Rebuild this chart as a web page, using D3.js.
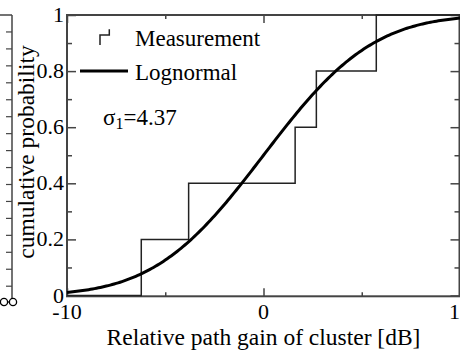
<!DOCTYPE html>
<html>
<head>
<meta charset="utf-8">
<script src="https://cdn.jsdelivr.net/npm/d3@7"></script>
<style>
  html, body { margin: 0; padding: 0; background: #fff; }
  svg { display: block; }
</style>
</head>
<body>
<svg id="chart" width="460" height="356" font-family="'Liberation Serif', 'Times New Roman', Times, 'DejaVu Serif', serif"></svg>
<script>
// Measured cluster path gains (dB), sorted, and their empirical cumulative probability
const measuredGain = [-6.22, -3.81, 1.61, 2.69, 5.74];
const measuredProb = [0.2, 0.4, 0.6, 0.8, 1.0];

// Fitted lognormal (normal in dB) parameters
const lognormalMu = 0;
const lognormalSigma = 4.37;

// Axis ticks
const xMajorTicks = [-10, 0, 10];
const xMinorTicks = [-5, 5];
const yMajorTicks = [0, 0.2, 0.4, 0.6, 0.8, 1];
const yMinorTicks = [0.1, 0.3, 0.5, 0.7, 0.9];
const yTickLabels = ["0", "0.2", "0.4", "0.6", "0.8", "1"];

const svg = d3.select("#chart");
const plotLeft = 67, plotRight = 460, plotTop = 15, plotBottom = 295.5;

const x = d3.scaleLinear().domain([-10, 10]).range([plotLeft, plotRight]);
const y = d3.scaleLinear().domain([0, 1]).range([plotBottom, plotTop]);

const axisColor = "#444";

// Neighbouring panel edge (right axis of the previous subplot)
const nb = svg.append("g");
const nbX = 12;
nb.append("line").attr("x1", 0).attr("x2", nbX).attr("y1", plotTop).attr("y2", plotTop)
  .attr("stroke", axisColor).attr("stroke-width", 1.5);
nb.append("line").attr("x1", nbX).attr("x2", nbX).attr("y1", plotTop).attr("y2", 302)
  .attr("stroke", axisColor).attr("stroke-width", 1.5);
d3.range(1, 17).forEach(i => {
  const ty = plotTop + i * 16.95;
  nb.append("line").attr("x1", nbX - 6).attr("x2", nbX).attr("y1", ty).attr("y2", ty)
    .attr("stroke", axisColor).attr("stroke-width", 1.2);
});
nb.append("line").attr("x1", 4).attr("x2", 13).attr("y1", 302).attr("y2", 302)
  .attr("stroke", "#000").attr("stroke-width", 1.2);
[4, 13].forEach(cx => {
  nb.append("circle").attr("cx", cx).attr("cy", 302).attr("r", 3.6)
    .attr("fill", "#fff").attr("stroke", "#000").attr("stroke-width", 1.3);
});

// Frame
const g = svg.append("g");
g.append("rect").attr("x", plotLeft).attr("y", plotTop)
  .attr("width", plotRight - plotLeft - 0.5).attr("height", plotBottom - plotTop + 0.8)
  .attr("fill", "none").attr("stroke", axisColor).attr("stroke-width", 2);

// Inward ticks on all four sides
const noDomain = sel => sel.select(".domain").remove();
function ticks(axis, tx, ty) {
  g.append("g").attr("transform", `translate(${tx},${ty})`)
    .call(axis).call(noDomain)
    .selectAll("line").attr("stroke", axisColor).attr("stroke-width", 1.5);
}
ticks(d3.axisBottom(x).tickValues(xMajorTicks).tickSize(-8).tickFormat(""), 0, plotBottom + 0.8);
ticks(d3.axisBottom(x).tickValues(xMinorTicks).tickSize(-4).tickFormat(""), 0, plotBottom + 0.8);
ticks(d3.axisTop(x).tickValues(xMajorTicks).tickSize(-8).tickFormat(""), 0, plotTop);
ticks(d3.axisTop(x).tickValues(xMinorTicks).tickSize(-4).tickFormat(""), 0, plotTop);
ticks(d3.axisLeft(y).tickValues(yMajorTicks).tickSize(-9).tickFormat(""), plotLeft, 0);
ticks(d3.axisLeft(y).tickValues(yMinorTicks).tickSize(-5).tickFormat(""), plotLeft, 0);
ticks(d3.axisRight(y).tickValues(yMajorTicks).tickSize(-9).tickFormat(""), plotRight - 0.5, 0);
ticks(d3.axisRight(y).tickValues(yMinorTicks).tickSize(-5).tickFormat(""), plotRight - 0.5, 0);

// Tick labels
g.selectAll(".ylab").data(yMajorTicks).join("text")
  .attr("class", "ylab")
  .attr("x", plotLeft - 3).attr("y", d => y(d) + 7)
  .attr("text-anchor", "end").attr("font-size", 22)
  .text((d, i) => yTickLabels[i]);
g.selectAll(".xlab").data(xMajorTicks).join("text")
  .attr("class", "xlab")
  .attr("x", d => x(d)).attr("y", 319)
  .attr("text-anchor", "middle").attr("font-size", 22)
  .text(d => d);

// Axis titles
svg.append("text").attr("x", (plotLeft + plotRight) / 2).attr("y", 345)
  .attr("text-anchor", "middle").attr("font-size", 23.5)
  .text("Relative path gain of cluster [dB]");
svg.append("text").attr("transform", "translate(34,152) rotate(-90)")
  .attr("text-anchor", "middle").attr("font-size", 23.5)
  .text("cumulative probability");

// Empirical CDF as a staircase
const stairPts = [[-10, 0]].concat(measuredGain.map((v, i) => [v, measuredProb[i]]), [[10, 1]]);
const stairLine = d3.line().x(d => x(d[0])).y(d => y(d[1])).curve(d3.curveStepAfter);
g.append("path").datum(stairPts).attr("d", stairLine)
  .attr("fill", "none").attr("stroke", "#222").attr("stroke-width", 1.5);

// Lognormal CDF
function erf(z) {
  const s = Math.sign(z); z = Math.abs(z);
  const t = 1 / (1 + 0.3275911 * z);
  const p = ((((1.061405429 * t - 1.453152027) * t + 1.421413741) * t - 0.284496736) * t + 0.254829592) * t;
  return s * (1 - p * Math.exp(-z * z));
}
const cdf = v => 0.5 * (1 + erf((v - lognormalMu) / (lognormalSigma * Math.SQRT2)));
const curveX = d3.range(-10, 10.001, 0.1);
g.append("path").datum(curveX)
  .attr("d", d3.line().x(d => x(d)).y(d => y(cdf(d))))
  .attr("fill", "none").attr("stroke", "#000").attr("stroke-width", 3);

// Legend
const lg = svg.append("g");
lg.append("path").attr("d", "M100,45V35H109.3V29.3")
  .attr("fill", "none").attr("stroke", "#222").attr("stroke-width", 1.5);
lg.append("text").attr("x", 135).attr("y", 46).attr("font-size", 23).text("Measurement");
lg.append("line").attr("x1", 80).attr("x2", 128).attr("y1", y(0.8)).attr("y2", y(0.8))
  .attr("stroke", "#000").attr("stroke-width", 3);
lg.append("text").attr("x", 135).attr("y", 80).attr("font-size", 23).text("Lognormal");

const sig = svg.append("text").attr("x", 103).attr("y", 125).attr("font-size", 23);
sig.append("tspan").text("σ");
sig.append("tspan").attr("font-size", 16).attr("dy", 4).text("1");
sig.append("tspan").attr("dy", -4).text("=" + lognormalSigma.toFixed(2));
</script>
</body>
</html>
